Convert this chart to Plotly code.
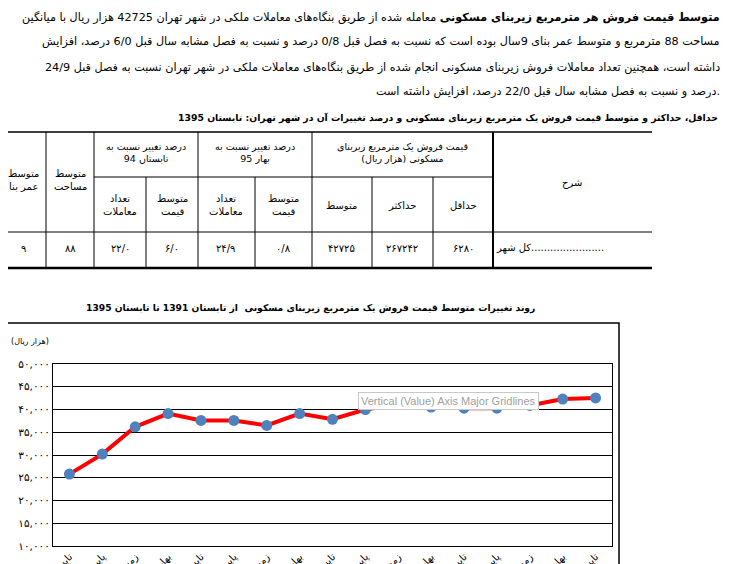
import plotly.graph_objects as go

seasons = ["تابستان ۹۱", "پاییز ۹۱", "زمستان ۹۱", "بهار ۹۲", "تابستان ۹۲", "پاییز ۹۲", "زمستان ۹۲",
           "بهار ۹۳", "تابستان ۹۳", "پاییز ۹۳", "زمستان ۹۳", "بهار ۹۴", "تابستان ۹۴", "پاییز ۹۴",
           "زمستان ۹۴", "بهار ۹۵", "تابستان ۹۵"]
avg_price = [25800, 30200, 36200, 39100, 37600, 37600, 36500, 39100, 37850, 40000,
             41150, 40550, 40300, 40300, 40900, 42300, 42550]
y_ticks = [10000, 15000, 20000, 25000, 30000, 35000, 40000, 45000, 50000]
y_tick_labels = ["۱۰,۰۰۰", "۱۵,۰۰۰", "۲۰,۰۰۰", "۲۵,۰۰۰", "۳۰,۰۰۰", "۳۵,۰۰۰", "۴۰,۰۰۰", "۴۵,۰۰۰", "۵۰,۰۰۰"]

table_values = ["۹", "۸۸", "۲۲/۰", "۶/۰", "۲۴/۹", "۰/۸", "۴۲۷۲۵", "۲۶۷۲۴۲", "۶۲۸۰", "کل شهر......................."]

FONT = "DejaVu Sans"
OFF = 8  # page body margin
W, H = 729, 564
# target plot area in screen pixels: x 53..612, y 364..546
L, T = 53 - OFF, 364 - OFF
R = W - (612 - OFF)
B = H - (546 - OFF)
PW, PH = W - L - R, H - T - B
def X(p): return (p - OFF - L) / PW
def Y(p): return (H - B - (p - OFF)) / PH

fig = go.Figure(go.Scatter(
    x=list(range(len(seasons))), y=avg_price, mode="lines+markers",
    line=dict(color="#ff0000", width=4),
    marker=dict(color="#4f81bd", size=11), showlegend=False))

fig.update_xaxes(range=[-0.5, len(seasons) - 0.5], tickvals=list(range(len(seasons))), ticktext=seasons,
                 tickangle=-45, showgrid=False, zeroline=False, showline=True, mirror=True,
                 linecolor="black", linewidth=1, ticks="", automargin=False,
                 tickfont=dict(family=FONT, size=10, color="black"))
fig.update_yaxes(range=[10000, 50000], tickvals=y_ticks, ticktext=y_tick_labels,
                 showgrid=True, gridcolor="black", gridwidth=1, zeroline=False, automargin=False,
                 showline=True, mirror=True, linecolor="black", linewidth=1, ticks="",
                 tickfont=dict(family=FONT, size=10.5, color="black"))

shapes, ann = [], []
def line(x0, y0, x1, y1, w=1):
    shapes.append(dict(type="line", xref="paper", yref="paper", x0=X(x0), x1=X(x1), y0=Y(y0), y1=Y(y1),
                       line=dict(color="black", width=w)))
def text(x, y, t, size=10, anchor="center", bold=False, color="black"):
    ann.append(dict(xref="paper", yref="paper", x=X(x), y=Y(y), text=("<b>%s</b>" % t) if bold else t,
                    showarrow=False, xanchor=anchor, yanchor="middle",
                    font=dict(family=FONT, size=size, color=color)))

paras = [
    "<b>متوسط قیمت فروش هر مترمربع زیربنای مسکونی</b> معامله شده از طریق بنگاه‌های معاملات ملکی در شهر تهران 42725 هزار ریال با میانگین",
    "مساحت 88 مترمربع و متوسط عمر بنای 9سال بوده است که نسبت به فصل قبل 0/8 درصد و نسبت به فصل مشابه سال قبل 6/0 درصد، افزایش",
    "داشته است، همچنین تعداد معاملات فروش زیربنای مسکونی انجام شده از طریق بنگاه‌های معاملات ملکی در شهر تهران نسبت به فصل قبل 24/9",
    "درصد و نسبت به فصل مشابه سال قبل 22/0 درصد، افزایش داشته است.",
]
for i, p in enumerate(paras):
    text(722, 17 + i * 25, p, size=11.2, anchor="right")

text(720, 118, "حداقل، حداکثر و متوسط قیمت فروش یک مترمربع زیربنای مسکونی و درصد تغییرات آن در شهر تهران: تابستان 1395",
     size=9.3, anchor="right", bold=True)
line(0, 132, 652, 132, 1.5)
line(94, 177, 493, 177)
line(0, 232, 652, 232)
line(0, 268, 652, 268, 2.5)
for xv in [46, 94, 198, 312]:
    line(xv, 132, xv, 268)
line(493, 132, 493, 268, 2)
for xv in [146, 255, 372, 433]:
    line(xv, 177, xv, 268)

text(572, 183, "شرح")
text(402, 152, "قیمت فروش یک مترمربع زیربنای<br>مسکونی (هزار ریال)", size=9.5)
text(463, 205, "حداقل")
text(402, 205, "حداکثر")
text(342, 205, "متوسط")
text(255, 152, "درصد تغییر نسبت به<br>بهار 95", size=9.5)
text(283, 205, "متوسط<br>قیمت")
text(226, 205, "تعداد<br>معاملات")
text(146, 152, "درصد تغییر نسبت به<br>تابستان 94", size=9.5)
text(172, 205, "متوسط<br>قیمت")
text(120, 205, "تعداد<br>معاملات")
text(70, 180, "متوسط<br>مساحت")
text(23, 180, "متوسط<br>عمر بنا")
col_x = [23, 70, 120, 172, 226, 283, 342, 402, 463, 550]
for cx, v in zip(col_x, table_values):
    text(cx, 248, v, size=10)

shapes.append(dict(type="rect", xref="paper", yref="paper", x0=X(0.5), x1=X(619), y0=Y(323), y1=Y(580),
                   line=dict(color="black", width=1.5)))
text(310, 308, "روند تغییرات متوسط قیمت فروش یک مترمربع زیربنای مسکونی  از تابستان 1391 تا تابستان 1395",
     size=9.2, bold=True)
text(30, 341, "(هزار ریال)", size=8)
ann.append(dict(xref="paper", yref="paper", x=X(358), y=Y(401), xanchor="left", yanchor="middle",
                text="Vertical (Value) Axis Major Gridlines", showarrow=False,
                font=dict(family="Liberation Sans", size=11, color="#a0a0a0"),
                bgcolor="white", bordercolor="#c8c8c8", borderwidth=1, borderpad=2))

fig.update_layout(width=W, height=H, margin=dict(l=L, r=R, t=T, b=B, autoexpand=False),
                  paper_bgcolor="white", plot_bgcolor="white",
                  shapes=shapes, annotations=ann)
fig.write_html("out.html")
